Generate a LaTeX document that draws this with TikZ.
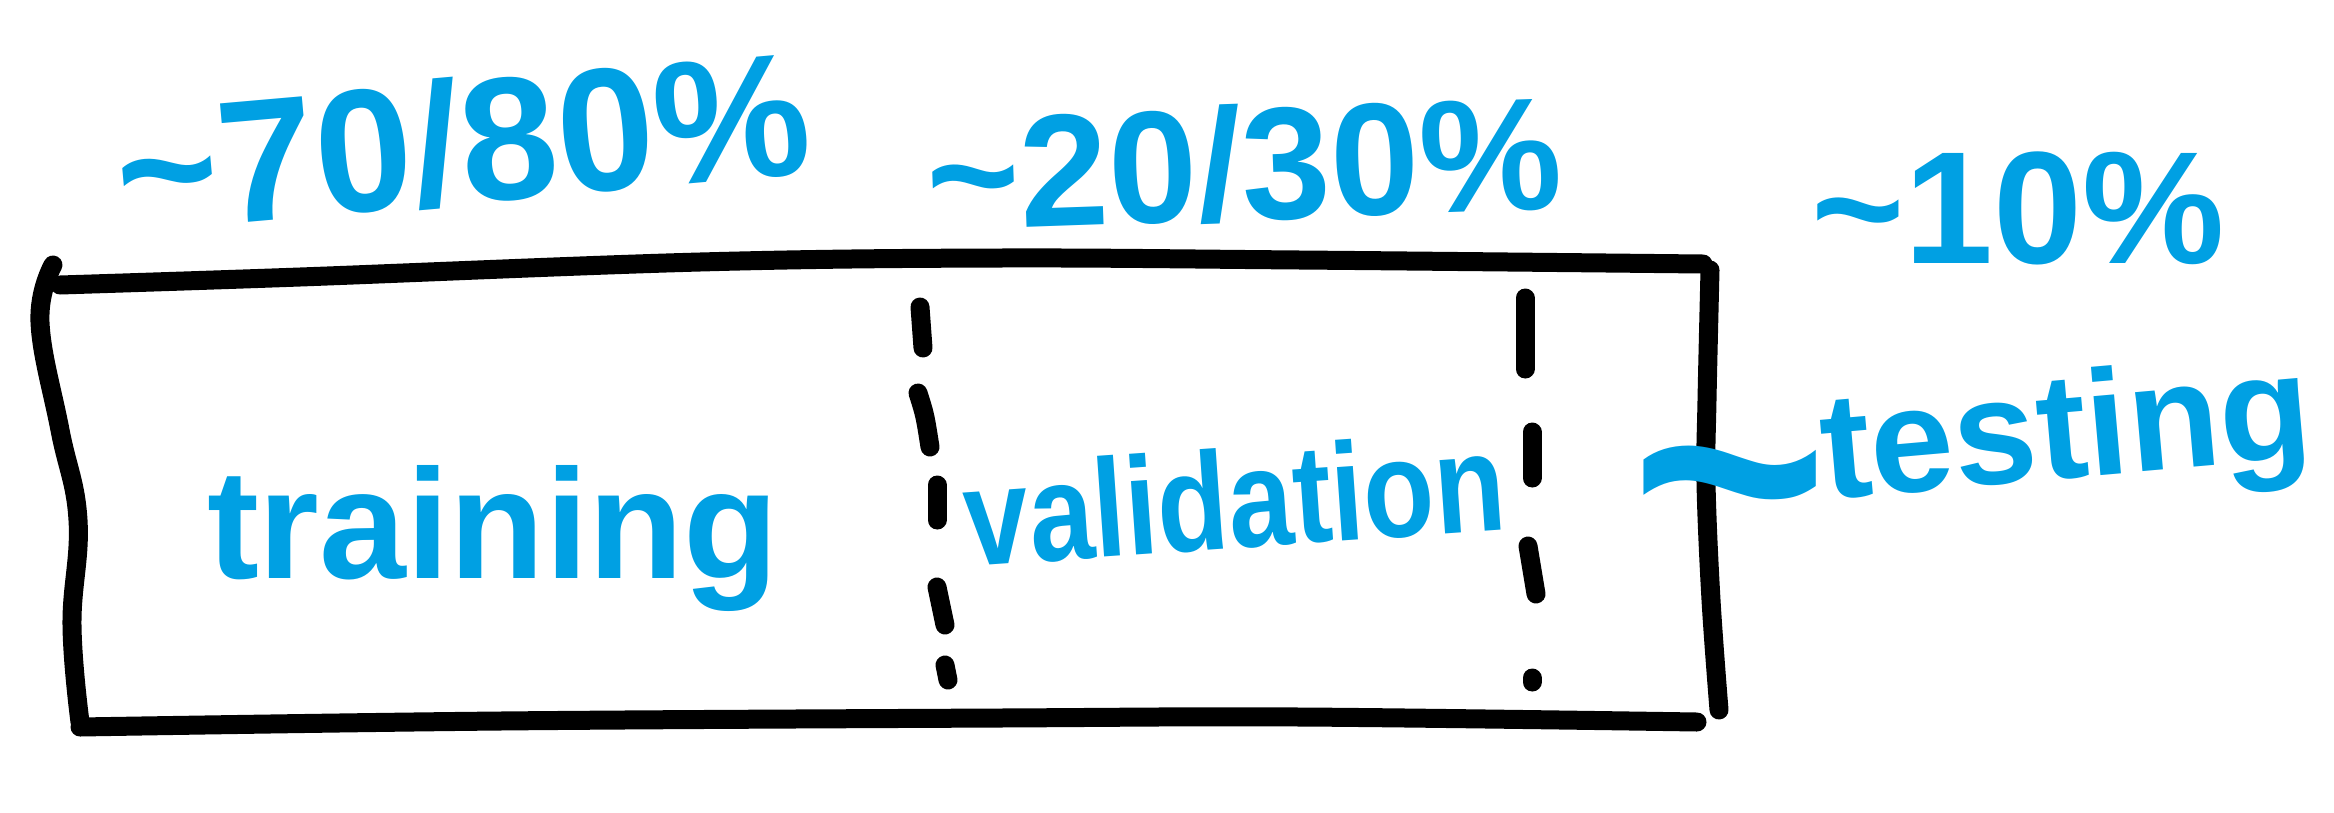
\documentclass[tikz,border=0pt]{standalone}
\usepackage{fontspec}
\setmainfont{Liberation Sans}
\definecolor{penblue}{RGB}{0,160,227}
\begin{document}
\begin{tikzpicture}[x=1pt,y=-1pt,
  pen/.style={line width=19pt, line cap=round, line join=round, draw=black},
  dashseg/.style={line width=19pt, line cap=round, draw=black},
  hand/.style={text=penblue, inner sep=0pt, anchor=base},
]
\useasboundingbox (0,0) rectangle (2334,812);
% box outline
\draw[pen] plot[smooth, tension=0.6] coordinates {(60,285) (300,277) (700,262) (1000,258) (1300,260) (1703,264)};
\draw[pen] plot[smooth, tension=0.7] coordinates {(53,265) (40,322) (60,430) (78,520) (72,625) (80,722)};
\draw[pen] plot[smooth, tension=0.6] coordinates {(80,727) (500,721) (1000,718) (1300,717) (1697,722)};
\draw[pen] plot[smooth, tension=0.6] coordinates {(1710,270) (1707,400) (1706,483) (1711,600) (1719,710)};
% dashed divider 1
\draw[dashseg] (920,307) -- (923,348);
\draw[dashseg] (918,393) .. controls (925,415) .. (930,447);
\draw[dashseg] (937,485) -- (937,520);
\draw[dashseg] (937,587) -- (945,625);
\draw[dashseg] (945,665) -- (948,680);
% dashed divider 2
\draw[dashseg] (1525,298) -- (1525,369);
\draw[dashseg] (1532,432) -- (1532,478);
\draw[dashseg] (1528,546) -- (1536,594);
\draw[dashseg] (1532,678) -- (1532,682);
% labels
\node[hand, font=\bfseries\fontsize{175}{175}\selectfont, rotate=5] (p1) at (468,203) {\char`~70/80\%};
\node[hand, font=\bfseries\fontsize{160}{160}\selectfont, rotate=2] (p2) at (1246,220) {\char`~20/30\%};
\node[hand, font=\bfseries\fontsize{160}{160}\selectfont] (p3) at (2018,263) {\char`~10\%};
\node[hand, font=\bfseries\fontsize{156}{156}\selectfont] (tr) at (493,578) {training};
\node[hand, font=\bfseries\fontsize{116}{116}\selectfont, rotate=4] (va) at (1238,548) {\scalebox{1}[1.2]{validation}};
\node[hand, font=\bfseries\fontsize{340}{340}\selectfont] (ti) at (1730,585) {\char`~};
\node[hand, font=\bfseries\fontsize{150}{150}\selectfont, rotate=5] (te) at (2070,478) {testing};
\end{tikzpicture}
\end{document}
